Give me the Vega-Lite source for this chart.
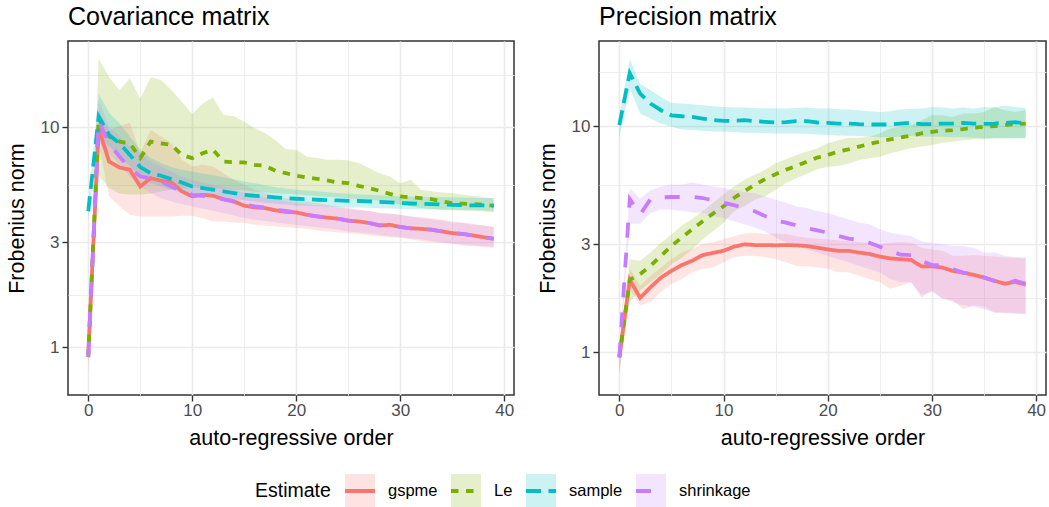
{
"$schema": "https://vega.github.io/schema/vega-lite/v6.json",
"background": "white",
"padding": {"left": 5, "top": 3, "right": 4, "bottom": 0},
"spacing": 21,
"datasets": {"d": [
{"p":"c","e":"gspme","x":0,"m":0.93,"lo":0.74,"hi":1.05},
{"p":"c","e":"gspme","x":1,"m":9.90,"lo":8.46,"hi":11.97},
{"p":"c","e":"gspme","x":2,"m":6.99,"lo":4.85,"hi":9.72},
{"p":"c","e":"gspme","x":3,"m":6.56,"lo":4.37,"hi":10.14},
{"p":"c","e":"gspme","x":4,"m":6.41,"lo":4.00,"hi":10.5},
{"p":"c","e":"gspme","x":5,"m":5.38,"lo":3.93,"hi":7.62},
{"p":"c","e":"gspme","x":6,"m":5.87,"lo":3.93,"hi":9.72},
{"p":"c","e":"gspme","x":7,"m":5.71,"lo":3.93,"hi":9.07},
{"p":"c","e":"gspme","x":8,"m":5.61,"lo":3.93,"hi":8.46},
{"p":"c","e":"gspme","x":9,"m":5.11,"lo":3.96,"hi":7.11},
{"p":"c","e":"gspme","x":10,"m":4.85,"lo":3.96,"hi":6.63},
{"p":"c","e":"gspme","x":11,"m":4.93,"lo":3.86,"hi":6.75},
{"p":"c","e":"gspme","x":12,"m":4.88,"lo":3.73,"hi":6.63},
{"p":"c","e":"gspme","x":13,"m":4.71,"lo":3.73,"hi":6.18},
{"p":"c","e":"gspme","x":14,"m":4.60,"lo":3.69,"hi":5.77},
{"p":"c","e":"gspme","x":15,"m":4.40,"lo":3.67,"hi":5.47},
{"p":"c","e":"gspme","x":16,"m":4.32,"lo":3.60,"hi":5.20},
{"p":"c","e":"gspme","x":17,"m":4.29,"lo":3.57,"hi":5.02},
{"p":"c","e":"gspme","x":18,"m":4.19,"lo":3.55,"hi":4.88},
{"p":"c","e":"gspme","x":19,"m":4.12,"lo":3.51,"hi":4.76},
{"p":"c","e":"gspme","x":20,"m":4.10,"lo":3.48,"hi":4.68},
{"p":"c","e":"gspme","x":21,"m":4.00,"lo":3.45,"hi":4.60},
{"p":"c","e":"gspme","x":22,"m":3.93,"lo":3.40,"hi":4.52},
{"p":"c","e":"gspme","x":23,"m":3.88,"lo":3.36,"hi":4.44},
{"p":"c","e":"gspme","x":24,"m":3.84,"lo":3.33,"hi":4.37},
{"p":"c","e":"gspme","x":25,"m":3.76,"lo":3.30,"hi":4.29},
{"p":"c","e":"gspme","x":26,"m":3.73,"lo":3.27,"hi":4.22},
{"p":"c","e":"gspme","x":27,"m":3.67,"lo":3.23,"hi":4.16},
{"p":"c","e":"gspme","x":28,"m":3.57,"lo":3.19,"hi":4.07},
{"p":"c","e":"gspme","x":29,"m":3.60,"lo":3.16,"hi":4.04},
{"p":"c","e":"gspme","x":30,"m":3.52,"lo":3.14,"hi":4.00},
{"p":"c","e":"gspme","x":31,"m":3.47,"lo":3.09,"hi":3.93},
{"p":"c","e":"gspme","x":32,"m":3.45,"lo":3.04,"hi":3.91},
{"p":"c","e":"gspme","x":33,"m":3.42,"lo":3.01,"hi":3.86},
{"p":"c","e":"gspme","x":34,"m":3.36,"lo":2.98,"hi":3.80},
{"p":"c","e":"gspme","x":35,"m":3.30,"lo":2.95,"hi":3.73},
{"p":"c","e":"gspme","x":36,"m":3.27,"lo":2.90,"hi":3.69},
{"p":"c","e":"gspme","x":37,"m":3.22,"lo":2.88,"hi":3.64},
{"p":"c","e":"gspme","x":38,"m":3.16,"lo":2.85,"hi":3.57},
{"p":"c","e":"gspme","x":39,"m":3.11,"lo":2.83,"hi":3.52},
{"p":"c","e":"Le","x":0,"m":0.90,"lo":0.86,"hi":0.94},
{"p":"c","e":"Le","x":1,"m":10.98,"lo":6.0,"hi":20.6},
{"p":"c","e":"Le","x":2,"m":9.07,"lo":5.3,"hi":16.9},
{"p":"c","e":"Le","x":3,"m":8.61,"lo":5.0,"hi":14.75},
{"p":"c","e":"Le","x":4,"m":8.46,"lo":4.95,"hi":16.7},
{"p":"c","e":"Le","x":5,"m":7.24,"lo":4.95,"hi":13.5},
{"p":"c","e":"Le","x":6,"m":8.61,"lo":5.0,"hi":16.9},
{"p":"c","e":"Le","x":7,"m":8.46,"lo":5.1,"hi":16.4},
{"p":"c","e":"Le","x":8,"m":8.31,"lo":5.2,"hi":14.75},
{"p":"c","e":"Le","x":9,"m":7.49,"lo":5.25,"hi":13.07},
{"p":"c","e":"Le","x":10,"m":7.24,"lo":5.3,"hi":11.49},
{"p":"c","e":"Le","x":11,"m":7.62,"lo":5.3,"hi":12.84},
{"p":"c","e":"Le","x":12,"m":7.90,"lo":5.3,"hi":13.67},
{"p":"c","e":"Le","x":13,"m":6.99,"lo":5.25,"hi":11.37},
{"p":"c","e":"Le","x":14,"m":6.94,"lo":5.2,"hi":11.26},
{"p":"c","e":"Le","x":15,"m":6.92,"lo":5.15,"hi":10.6},
{"p":"c","e":"Le","x":16,"m":6.75,"lo":5.1,"hi":9.9},
{"p":"c","e":"Le","x":17,"m":6.68,"lo":5.05,"hi":9.39},
{"p":"c","e":"Le","x":18,"m":6.34,"lo":5.0,"hi":8.76},
{"p":"c","e":"Le","x":19,"m":6.18,"lo":4.98,"hi":7.95},
{"p":"c","e":"Le","x":20,"m":6.02,"lo":4.95,"hi":7.90},
{"p":"c","e":"Le","x":21,"m":5.91,"lo":4.9,"hi":7.36},
{"p":"c","e":"Le","x":22,"m":5.83,"lo":4.87,"hi":7.24},
{"p":"c","e":"Le","x":23,"m":5.73,"lo":4.83,"hi":7.11},
{"p":"c","e":"Le","x":24,"m":5.61,"lo":4.8,"hi":7.11},
{"p":"c","e":"Le","x":25,"m":5.57,"lo":4.76,"hi":7.06},
{"p":"c","e":"Le","x":26,"m":5.41,"lo":4.72,"hi":6.87},
{"p":"c","e":"Le","x":27,"m":5.29,"lo":4.68,"hi":6.52},
{"p":"c","e":"Le","x":28,"m":5.14,"lo":4.63,"hi":6.18},
{"p":"c","e":"Le","x":29,"m":4.98,"lo":4.55,"hi":5.97},
{"p":"c","e":"Le","x":30,"m":4.85,"lo":4.44,"hi":5.57},
{"p":"c","e":"Le","x":31,"m":4.80,"lo":4.37,"hi":5.77},
{"p":"c","e":"Le","x":32,"m":4.76,"lo":4.29,"hi":5.20},
{"p":"c","e":"Le","x":33,"m":4.71,"lo":4.25,"hi":5.11},
{"p":"c","e":"Le","x":34,"m":4.60,"lo":4.22,"hi":5.05},
{"p":"c","e":"Le","x":35,"m":4.52,"lo":4.19,"hi":5.02},
{"p":"c","e":"Le","x":36,"m":4.49,"lo":4.17,"hi":4.93},
{"p":"c","e":"Le","x":37,"m":4.47,"lo":4.16,"hi":4.88},
{"p":"c","e":"Le","x":38,"m":4.44,"lo":4.15,"hi":4.81},
{"p":"c","e":"Le","x":39,"m":4.40,"lo":4.10,"hi":4.76},
{"p":"c","e":"sample","x":0,"m":4.15,"lo":3.80,"hi":4.52},
{"p":"c","e":"sample","x":1,"m":11.18,"lo":9.07,"hi":14.2},
{"p":"c","e":"sample","x":2,"m":9.23,"lo":8.17,"hi":11.65},
{"p":"c","e":"sample","x":3,"m":8.46,"lo":7.49,"hi":10.42},
{"p":"c","e":"sample","x":4,"m":7.49,"lo":6.63,"hi":9.07},
{"p":"c","e":"sample","x":5,"m":6.59,"lo":5.97,"hi":7.90},
{"p":"c","e":"sample","x":6,"m":6.18,"lo":5.57,"hi":7.24},
{"p":"c","e":"sample","x":7,"m":6.02,"lo":5.38,"hi":6.87},
{"p":"c","e":"sample","x":8,"m":5.81,"lo":5.20,"hi":6.59},
{"p":"c","e":"sample","x":9,"m":5.61,"lo":5.05,"hi":6.41},
{"p":"c","e":"sample","x":10,"m":5.38,"lo":4.93,"hi":6.29},
{"p":"c","e":"sample","x":11,"m":5.29,"lo":4.87,"hi":6.17},
{"p":"c","e":"sample","x":12,"m":5.20,"lo":4.81,"hi":6.06},
{"p":"c","e":"sample","x":13,"m":5.11,"lo":4.75,"hi":5.93},
{"p":"c","e":"sample","x":14,"m":5.02,"lo":4.70,"hi":5.80},
{"p":"c","e":"sample","x":15,"m":4.93,"lo":4.65,"hi":5.67},
{"p":"c","e":"sample","x":16,"m":4.88,"lo":4.60,"hi":5.56},
{"p":"c","e":"sample","x":17,"m":4.85,"lo":4.54,"hi":5.45},
{"p":"c","e":"sample","x":18,"m":4.80,"lo":4.49,"hi":5.34},
{"p":"c","e":"sample","x":19,"m":4.76,"lo":4.45,"hi":5.27},
{"p":"c","e":"sample","x":20,"m":4.73,"lo":4.41,"hi":5.20},
{"p":"c","e":"sample","x":21,"m":4.71,"lo":4.39,"hi":5.15},
{"p":"c","e":"sample","x":22,"m":4.68,"lo":4.37,"hi":5.11},
{"p":"c","e":"sample","x":23,"m":4.66,"lo":4.35,"hi":5.06},
{"p":"c","e":"sample","x":24,"m":4.65,"lo":4.33,"hi":5.02},
{"p":"c","e":"sample","x":25,"m":4.63,"lo":4.32,"hi":4.98},
{"p":"c","e":"sample","x":26,"m":4.62,"lo":4.31,"hi":4.95},
{"p":"c","e":"sample","x":27,"m":4.60,"lo":4.30,"hi":4.93},
{"p":"c","e":"sample","x":28,"m":4.58,"lo":4.28,"hi":4.90},
{"p":"c","e":"sample","x":29,"m":4.55,"lo":4.27,"hi":4.87},
{"p":"c","e":"sample","x":30,"m":4.52,"lo":4.26,"hi":4.85},
{"p":"c","e":"sample","x":31,"m":4.50,"lo":4.25,"hi":4.84},
{"p":"c","e":"sample","x":32,"m":4.49,"lo":4.24,"hi":4.83},
{"p":"c","e":"sample","x":33,"m":4.47,"lo":4.24,"hi":4.82},
{"p":"c","e":"sample","x":34,"m":4.46,"lo":4.23,"hi":4.81},
{"p":"c","e":"sample","x":35,"m":4.44,"lo":4.22,"hi":4.80},
{"p":"c","e":"sample","x":36,"m":4.43,"lo":4.21,"hi":4.79},
{"p":"c","e":"sample","x":37,"m":4.41,"lo":4.20,"hi":4.78},
{"p":"c","e":"sample","x":38,"m":4.41,"lo":4.18,"hi":4.77},
{"p":"c","e":"sample","x":39,"m":4.40,"lo":4.17,"hi":4.76},
{"p":"c","e":"shrinkage","x":0,"m":0.90,"lo":0.86,"hi":0.94},
{"p":"c","e":"shrinkage","x":1,"m":10.68,"lo":8.46,"hi":13.3},
{"p":"c","e":"shrinkage","x":2,"m":8.46,"lo":7.62,"hi":10.07},
{"p":"c","e":"shrinkage","x":3,"m":7.36,"lo":6.75,"hi":9.07},
{"p":"c","e":"shrinkage","x":4,"m":6.52,"lo":5.97,"hi":8.17},
{"p":"c","e":"shrinkage","x":5,"m":5.97,"lo":5.38,"hi":7.62},
{"p":"c","e":"shrinkage","x":6,"m":5.87,"lo":5.02,"hi":6.99},
{"p":"c","e":"shrinkage","x":7,"m":5.67,"lo":4.76,"hi":6.63},
{"p":"c","e":"shrinkage","x":8,"m":5.38,"lo":4.60,"hi":6.29},
{"p":"c","e":"shrinkage","x":9,"m":5.11,"lo":4.47,"hi":5.97},
{"p":"c","e":"shrinkage","x":10,"m":4.93,"lo":4.37,"hi":5.77},
{"p":"c","e":"shrinkage","x":11,"m":4.88,"lo":4.26,"hi":5.61},
{"p":"c","e":"shrinkage","x":12,"m":4.80,"lo":4.17,"hi":5.47},
{"p":"c","e":"shrinkage","x":13,"m":4.70,"lo":4.07,"hi":5.34},
{"p":"c","e":"shrinkage","x":14,"m":4.59,"lo":3.97,"hi":5.20},
{"p":"c","e":"shrinkage","x":15,"m":4.44,"lo":3.86,"hi":5.02},
{"p":"c","e":"shrinkage","x":16,"m":4.37,"lo":3.80,"hi":4.93},
{"p":"c","e":"shrinkage","x":17,"m":4.31,"lo":3.76,"hi":4.81},
{"p":"c","e":"shrinkage","x":18,"m":4.22,"lo":3.69,"hi":4.71},
{"p":"c","e":"shrinkage","x":19,"m":4.16,"lo":3.64,"hi":4.60},
{"p":"c","e":"shrinkage","x":20,"m":4.10,"lo":3.60,"hi":4.52},
{"p":"c","e":"shrinkage","x":21,"m":4.00,"lo":3.55,"hi":4.47},
{"p":"c","e":"shrinkage","x":22,"m":3.93,"lo":3.51,"hi":4.41},
{"p":"c","e":"shrinkage","x":23,"m":3.88,"lo":3.47,"hi":4.37},
{"p":"c","e":"shrinkage","x":24,"m":3.84,"lo":3.42,"hi":4.31},
{"p":"c","e":"shrinkage","x":25,"m":3.76,"lo":3.36,"hi":4.25},
{"p":"c","e":"shrinkage","x":26,"m":3.73,"lo":3.33,"hi":4.19},
{"p":"c","e":"shrinkage","x":27,"m":3.67,"lo":3.29,"hi":4.16},
{"p":"c","e":"shrinkage","x":28,"m":3.59,"lo":3.24,"hi":4.07},
{"p":"c","e":"shrinkage","x":29,"m":3.58,"lo":3.19,"hi":4.04},
{"p":"c","e":"shrinkage","x":30,"m":3.52,"lo":3.17,"hi":4.00},
{"p":"c","e":"shrinkage","x":31,"m":3.47,"lo":3.12,"hi":3.93},
{"p":"c","e":"shrinkage","x":32,"m":3.45,"lo":3.09,"hi":3.86},
{"p":"c","e":"shrinkage","x":33,"m":3.42,"lo":3.04,"hi":3.82},
{"p":"c","e":"shrinkage","x":34,"m":3.36,"lo":3.00,"hi":3.77},
{"p":"c","e":"shrinkage","x":35,"m":3.30,"lo":2.96,"hi":3.69},
{"p":"c","e":"shrinkage","x":36,"m":3.27,"lo":2.92,"hi":3.67},
{"p":"c","e":"shrinkage","x":37,"m":3.22,"lo":2.90,"hi":3.60},
{"p":"c","e":"shrinkage","x":38,"m":3.17,"lo":2.88,"hi":3.57},
{"p":"c","e":"shrinkage","x":39,"m":3.11,"lo":2.85,"hi":3.52},
{"p":"p","e":"gspme","x":0,"m":0.95,"lo":0.79,"hi":1.11},
{"p":"p","e":"gspme","x":1,"m":2.09,"lo":1.91,"hi":2.34},
{"p":"p","e":"gspme","x":2,"m":1.74,"lo":1.61,"hi":1.97},
{"p":"p","e":"gspme","x":3,"m":1.94,"lo":1.67,"hi":2.18},
{"p":"p","e":"gspme","x":4,"m":2.14,"lo":1.85,"hi":2.37},
{"p":"p","e":"gspme","x":5,"m":2.29,"lo":2.01,"hi":2.58},
{"p":"p","e":"gspme","x":6,"m":2.43,"lo":2.11,"hi":2.76},
{"p":"p","e":"gspme","x":7,"m":2.54,"lo":2.26,"hi":2.87},
{"p":"p","e":"gspme","x":8,"m":2.69,"lo":2.34,"hi":3.0},
{"p":"p","e":"gspme","x":9,"m":2.75,"lo":2.37,"hi":3.07},
{"p":"p","e":"gspme","x":10,"m":2.81,"lo":2.50,"hi":3.16},
{"p":"p","e":"gspme","x":11,"m":2.93,"lo":2.63,"hi":3.26},
{"p":"p","e":"gspme","x":12,"m":3.0,"lo":2.67,"hi":3.35},
{"p":"p","e":"gspme","x":13,"m":2.98,"lo":2.67,"hi":3.38},
{"p":"p","e":"gspme","x":14,"m":2.98,"lo":2.63,"hi":3.33},
{"p":"p","e":"gspme","x":15,"m":2.97,"lo":2.58,"hi":3.35},
{"p":"p","e":"gspme","x":16,"m":2.98,"lo":2.50,"hi":3.33},
{"p":"p","e":"gspme","x":17,"m":2.97,"lo":2.41,"hi":3.26},
{"p":"p","e":"gspme","x":18,"m":2.95,"lo":2.40,"hi":3.21},
{"p":"p","e":"gspme","x":19,"m":2.90,"lo":2.37,"hi":3.18},
{"p":"p","e":"gspme","x":20,"m":2.85,"lo":2.34,"hi":3.16},
{"p":"p","e":"gspme","x":21,"m":2.81,"lo":2.26,"hi":3.13},
{"p":"p","e":"gspme","x":22,"m":2.81,"lo":2.26,"hi":3.10},
{"p":"p","e":"gspme","x":23,"m":2.76,"lo":2.18,"hi":3.07},
{"p":"p","e":"gspme","x":24,"m":2.72,"lo":2.11,"hi":3.05},
{"p":"p","e":"gspme","x":25,"m":2.65,"lo":2.04,"hi":3.0},
{"p":"p","e":"gspme","x":26,"m":2.60,"lo":1.91,"hi":3.05},
{"p":"p","e":"gspme","x":27,"m":2.58,"lo":1.97,"hi":3.07},
{"p":"p","e":"gspme","x":28,"m":2.56,"lo":2.04,"hi":3.05},
{"p":"p","e":"gspme","x":29,"m":2.40,"lo":1.74,"hi":2.90},
{"p":"p","e":"gspme","x":30,"m":2.40,"lo":1.88,"hi":2.85},
{"p":"p","e":"gspme","x":31,"m":2.37,"lo":1.73,"hi":2.81},
{"p":"p","e":"gspme","x":32,"m":2.29,"lo":1.70,"hi":2.67},
{"p":"p","e":"gspme","x":33,"m":2.25,"lo":1.55,"hi":2.67},
{"p":"p","e":"gspme","x":34,"m":2.20,"lo":1.61,"hi":2.69},
{"p":"p","e":"gspme","x":35,"m":2.14,"lo":1.59,"hi":2.67},
{"p":"p","e":"gspme","x":36,"m":2.07,"lo":1.50,"hi":2.65},
{"p":"p","e":"gspme","x":37,"m":2.01,"lo":1.50,"hi":2.63},
{"p":"p","e":"gspme","x":38,"m":2.05,"lo":1.49,"hi":2.62},
{"p":"p","e":"gspme","x":39,"m":1.99,"lo":1.48,"hi":2.60},
{"p":"p","e":"Le","x":0,"m":0.95,"lo":0.82,"hi":1.0},
{"p":"p","e":"Le","x":1,"m":2.09,"lo":1.67,"hi":2.58},
{"p":"p","e":"Le","x":2,"m":2.22,"lo":1.88,"hi":2.54},
{"p":"p","e":"Le","x":3,"m":2.41,"lo":2.04,"hi":2.76},
{"p":"p","e":"Le","x":4,"m":2.67,"lo":2.22,"hi":3.05},
{"p":"p","e":"Le","x":5,"m":2.95,"lo":2.45,"hi":3.32},
{"p":"p","e":"Le","x":6,"m":3.22,"lo":2.62,"hi":3.64},
{"p":"p","e":"Le","x":7,"m":3.50,"lo":2.85,"hi":3.89},
{"p":"p","e":"Le","x":8,"m":3.80,"lo":3.16,"hi":4.20},
{"p":"p","e":"Le","x":9,"m":4.11,"lo":3.44,"hi":4.58},
{"p":"p","e":"Le","x":10,"m":4.42,"lo":3.74,"hi":4.98},
{"p":"p","e":"Le","x":11,"m":4.81,"lo":4.20,"hi":5.41},
{"p":"p","e":"Le","x":12,"m":5.15,"lo":4.42,"hi":5.79},
{"p":"p","e":"Le","x":13,"m":5.51,"lo":4.73,"hi":6.09},
{"p":"p","e":"Le","x":14,"m":5.83,"lo":4.90,"hi":6.41},
{"p":"p","e":"Le","x":15,"m":6.13,"lo":5.23,"hi":6.86},
{"p":"p","e":"Le","x":16,"m":6.41,"lo":5.60,"hi":7.14},
{"p":"p","e":"Le","x":17,"m":6.67,"lo":5.89,"hi":7.45},
{"p":"p","e":"Le","x":18,"m":6.97,"lo":6.15,"hi":7.72},
{"p":"p","e":"Le","x":19,"m":7.26,"lo":6.45,"hi":7.98},
{"p":"p","e":"Le","x":20,"m":7.45,"lo":6.62,"hi":8.40},
{"p":"p","e":"Le","x":21,"m":7.72,"lo":6.67,"hi":8.67},
{"p":"p","e":"Le","x":22,"m":7.90,"lo":6.81,"hi":8.88},
{"p":"p","e":"Le","x":23,"m":8.12,"lo":7.09,"hi":8.88},
{"p":"p","e":"Le","x":24,"m":8.34,"lo":7.21,"hi":8.98},
{"p":"p","e":"Le","x":25,"m":8.54,"lo":7.33,"hi":9.28},
{"p":"p","e":"Le","x":26,"m":8.74,"lo":7.58,"hi":9.77},
{"p":"p","e":"Le","x":27,"m":8.91,"lo":7.79,"hi":9.93},
{"p":"p","e":"Le","x":28,"m":9.07,"lo":7.98,"hi":10.1},
{"p":"p","e":"Le","x":29,"m":9.28,"lo":8.12,"hi":10.63},
{"p":"p","e":"Le","x":30,"m":9.44,"lo":8.26,"hi":11.17},
{"p":"p","e":"Le","x":31,"m":9.54,"lo":8.45,"hi":11.17},
{"p":"p","e":"Le","x":32,"m":9.61,"lo":8.54,"hi":10.99},
{"p":"p","e":"Le","x":33,"m":9.71,"lo":8.67,"hi":11.36},
{"p":"p","e":"Le","x":34,"m":9.84,"lo":8.74,"hi":11.36},
{"p":"p","e":"Le","x":35,"m":9.93,"lo":8.74,"hi":11.56},
{"p":"p","e":"Le","x":36,"m":10.0,"lo":8.83,"hi":12.16},
{"p":"p","e":"Le","x":37,"m":10.1,"lo":8.83,"hi":11.76},
{"p":"p","e":"Le","x":38,"m":10.2,"lo":8.83,"hi":11.56},
{"p":"p","e":"Le","x":39,"m":10.27,"lo":8.83,"hi":11.76},
{"p":"p","e":"sample","x":0,"m":10.1,"lo":8.83,"hi":11.17},
{"p":"p","e":"sample","x":1,"m":17.15,"lo":14.8,"hi":19.8},
{"p":"p","e":"sample","x":2,"m":13.92,"lo":11.36,"hi":15.4},
{"p":"p","e":"sample","x":3,"m":12.58,"lo":10.8,"hi":14.4},
{"p":"p","e":"sample","x":4,"m":11.76,"lo":10.27,"hi":13.46},
{"p":"p","e":"sample","x":5,"m":11.17,"lo":9.93,"hi":12.66},
{"p":"p","e":"sample","x":6,"m":11.06,"lo":9.67,"hi":12.58},
{"p":"p","e":"sample","x":7,"m":10.99,"lo":9.61,"hi":12.49},
{"p":"p","e":"sample","x":8,"m":10.8,"lo":9.54,"hi":12.37},
{"p":"p","e":"sample","x":9,"m":10.63,"lo":9.48,"hi":12.24},
{"p":"p","e":"sample","x":10,"m":10.56,"lo":9.44,"hi":12.16},
{"p":"p","e":"sample","x":11,"m":10.56,"lo":9.41,"hi":12.12},
{"p":"p","e":"sample","x":12,"m":10.63,"lo":9.35,"hi":12.08},
{"p":"p","e":"sample","x":13,"m":10.52,"lo":9.35,"hi":12.04},
{"p":"p","e":"sample","x":14,"m":10.45,"lo":9.32,"hi":12.0},
{"p":"p","e":"sample","x":15,"m":10.38,"lo":9.28,"hi":11.96},
{"p":"p","e":"sample","x":16,"m":10.41,"lo":9.28,"hi":11.96},
{"p":"p","e":"sample","x":17,"m":10.52,"lo":9.28,"hi":12.04},
{"p":"p","e":"sample","x":18,"m":10.52,"lo":9.25,"hi":12.08},
{"p":"p","e":"sample","x":19,"m":10.38,"lo":9.19,"hi":11.96},
{"p":"p","e":"sample","x":20,"m":10.34,"lo":9.13,"hi":11.96},
{"p":"p","e":"sample","x":21,"m":10.27,"lo":9.10,"hi":11.88},
{"p":"p","e":"sample","x":22,"m":10.27,"lo":9.07,"hi":11.84},
{"p":"p","e":"sample","x":23,"m":10.2,"lo":9.04,"hi":11.76},
{"p":"p","e":"sample","x":24,"m":10.17,"lo":8.98,"hi":11.64},
{"p":"p","e":"sample","x":25,"m":10.17,"lo":8.92,"hi":11.56},
{"p":"p","e":"sample","x":26,"m":10.17,"lo":8.92,"hi":11.64},
{"p":"p","e":"sample","x":27,"m":10.27,"lo":8.98,"hi":11.84},
{"p":"p","e":"sample","x":28,"m":10.34,"lo":9.04,"hi":11.92},
{"p":"p","e":"sample","x":29,"m":10.2,"lo":8.98,"hi":11.96},
{"p":"p","e":"sample","x":30,"m":10.2,"lo":8.98,"hi":12.16},
{"p":"p","e":"sample","x":31,"m":10.27,"lo":8.98,"hi":12.08},
{"p":"p","e":"sample","x":32,"m":10.27,"lo":8.92,"hi":11.96},
{"p":"p","e":"sample","x":33,"m":10.34,"lo":8.92,"hi":12.08},
{"p":"p","e":"sample","x":34,"m":10.27,"lo":8.89,"hi":11.96},
{"p":"p","e":"sample","x":35,"m":10.24,"lo":8.83,"hi":12.16},
{"p":"p","e":"sample","x":36,"m":10.27,"lo":8.83,"hi":12.08},
{"p":"p","e":"sample","x":37,"m":10.34,"lo":8.83,"hi":12.33},
{"p":"p","e":"sample","x":38,"m":10.41,"lo":8.86,"hi":12.16},
{"p":"p","e":"sample","x":39,"m":10.27,"lo":8.83,"hi":12.04},
{"p":"p","e":"shrinkage","x":0,"m":0.95,"lo":0.90,"hi":1.0},
{"p":"p","e":"shrinkage","x":1,"m":4.76,"lo":3.70,"hi":5.32},
{"p":"p","e":"shrinkage","x":2,"m":4.07,"lo":3.70,"hi":4.78},
{"p":"p","e":"shrinkage","x":3,"m":4.76,"lo":4.13,"hi":5.20},
{"p":"p","e":"shrinkage","x":4,"m":4.84,"lo":4.28,"hi":5.41},
{"p":"p","e":"shrinkage","x":5,"m":4.86,"lo":4.28,"hi":5.52},
{"p":"p","e":"shrinkage","x":6,"m":4.86,"lo":4.21,"hi":5.52},
{"p":"p","e":"shrinkage","x":7,"m":4.86,"lo":4.16,"hi":5.64},
{"p":"p","e":"shrinkage","x":8,"m":4.81,"lo":4.13,"hi":5.52},
{"p":"p","e":"shrinkage","x":9,"m":4.70,"lo":3.99,"hi":5.41},
{"p":"p","e":"shrinkage","x":10,"m":4.58,"lo":3.92,"hi":5.32},
{"p":"p","e":"shrinkage","x":11,"m":4.47,"lo":3.80,"hi":5.20},
{"p":"p","e":"shrinkage","x":12,"m":4.34,"lo":3.68,"hi":5.12},
{"p":"p","e":"shrinkage","x":13,"m":4.20,"lo":3.56,"hi":5.05},
{"p":"p","e":"shrinkage","x":14,"m":4.0,"lo":3.42,"hi":4.88},
{"p":"p","e":"shrinkage","x":15,"m":3.82,"lo":3.22,"hi":4.72},
{"p":"p","e":"shrinkage","x":16,"m":3.74,"lo":3.05,"hi":4.58},
{"p":"p","e":"shrinkage","x":17,"m":3.64,"lo":2.95,"hi":4.42},
{"p":"p","e":"shrinkage","x":18,"m":3.54,"lo":2.85,"hi":4.35},
{"p":"p","e":"shrinkage","x":19,"m":3.46,"lo":2.76,"hi":4.20},
{"p":"p","e":"shrinkage","x":20,"m":3.38,"lo":2.67,"hi":4.13},
{"p":"p","e":"shrinkage","x":21,"m":3.27,"lo":2.58,"hi":3.99},
{"p":"p","e":"shrinkage","x":22,"m":3.18,"lo":2.50,"hi":3.86},
{"p":"p","e":"shrinkage","x":23,"m":3.14,"lo":2.41,"hi":3.74},
{"p":"p","e":"shrinkage","x":24,"m":3.05,"lo":2.33,"hi":3.68},
{"p":"p","e":"shrinkage","x":25,"m":2.93,"lo":2.25,"hi":3.50},
{"p":"p","e":"shrinkage","x":26,"m":2.81,"lo":2.11,"hi":3.38},
{"p":"p","e":"shrinkage","x":27,"m":2.70,"lo":2.04,"hi":3.32},
{"p":"p","e":"shrinkage","x":28,"m":2.69,"lo":2.04,"hi":3.26},
{"p":"p","e":"shrinkage","x":29,"m":2.54,"lo":1.79,"hi":3.10},
{"p":"p","e":"shrinkage","x":30,"m":2.43,"lo":1.85,"hi":3.05},
{"p":"p","e":"shrinkage","x":31,"m":2.43,"lo":1.73,"hi":3.0},
{"p":"p","e":"shrinkage","x":32,"m":2.33,"lo":1.67,"hi":2.95},
{"p":"p","e":"shrinkage","x":33,"m":2.25,"lo":1.61,"hi":2.95},
{"p":"p","e":"shrinkage","x":34,"m":2.20,"lo":1.59,"hi":2.90},
{"p":"p","e":"shrinkage","x":35,"m":2.14,"lo":1.55,"hi":2.76},
{"p":"p","e":"shrinkage","x":36,"m":2.07,"lo":1.50,"hi":2.76},
{"p":"p","e":"shrinkage","x":37,"m":2.01,"lo":1.49,"hi":2.67},
{"p":"p","e":"shrinkage","x":38,"m":2.07,"lo":1.48,"hi":2.63},
{"p":"p","e":"shrinkage","x":39,"m":2.01,"lo":1.48,"hi":2.63}
]},
"hconcat": [
{
 "width": 446, "height": 354,
 "title": {"text": "Covariance matrix"},
 "data": {"name": "d"},
 "transform": [{"filter": "datum.p == 'c'"}],
 "layer": [
  {"mark": {"type": "area", "opacity": 0.2, "strokeWidth": 0},
   "encoding": {
    "x": {"field": "x", "type": "quantitative", "title": "auto-regressive order", "scale": {"domain": [-1.95, 40.95], "nice": false, "zero": false},
      "axis": {"values": [0,5,10,15,20,25,30,35,40], "labelExpr": "datum.value % 10 == 0 ? datum.label : ''", "tickOpacity": {"condition": {"test": "datum.value % 10 == 0", "value": 1}, "value": 0}, "gridWidth": {"condition": {"test": "datum.value % 10 == 0", "value": 1.7}, "value": 0.85}}},
    "y": {"field": "lo", "type": "quantitative", "title": "Frobenius norm", "scale": {"type": "log", "domain": [0.605, 24.7], "nice": false},
      "axis": {"values": [1, 1.7320508, 3, 5.4772256, 10, 17.320508], "labelExpr": "datum.value == 1 ? '1' : datum.value == 3 ? '3' : datum.value == 10 ? '10' : ''", "tickOpacity": {"condition": {"test": "datum.value == 1 || datum.value == 3 || datum.value == 10", "value": 1}, "value": 0}, "gridWidth": {"condition": {"test": "datum.value == 1 || datum.value == 3 || datum.value == 10", "value": 1.7}, "value": 0.85}}},
    "y2": {"field": "hi"},
    "fill": {"field": "e", "type": "nominal", "sort": ["gspme", "Le", "sample", "shrinkage"], "scale": {"range": ["#F8766D", "#7CAE00", "#00BFC4", "#C77CFF"]},
      "legend": {"orient": "none", "legendX": 187, "legendY": 433, "direction": "horizontal", "title": "Estimate", "titleOrient": "left", "symbolType": "M-1,-1.13H1V1.13H-1Z", "symbolSize": 900, "symbolOpacity": 0.2, "symbolStrokeColor": "transparent", "symbolStrokeWidth": 3.8, "labelOpacity": 0, "titleOpacity": 0}}
   }},
  {"mark": {"type": "line", "strokeWidth": 3.8},
   "encoding": {
    "x": {"field": "x", "type": "quantitative", "title": "auto-regressive order"},
    "y": {"field": "m", "type": "quantitative", "title": "Frobenius norm"},
    "stroke": {"field": "e", "type": "nominal", "scale": {"domain": ["gspme", "Le", "sample", "shrinkage"], "range": ["#F8766D", "#7CAE00", "#00BFC4", "#C77CFF"]},
      "legend": {"orient": "none", "legendX": 187, "legendY": 433, "direction": "horizontal", "title": "Estimate", "titleOrient": "left", "symbolType": "M-1,0H1", "symbolSize": 900, "symbolStrokeWidth": 3.8}},
    "strokeDash": {"field": "e", "type": "nominal", "scale": {"domain": ["gspme", "Le", "sample", "shrinkage"], "range": [[1,0],[7.5,7.5],[15,7.5],[15,15]]},
      "legend": {"orient": "none", "legendX": 187, "legendY": 433, "direction": "horizontal", "title": "Estimate", "titleOrient": "left", "symbolType": "M-1,0H1", "symbolSize": 900, "symbolStrokeWidth": 3.8}}
   }}
 ]
},
{
 "width": 447, "height": 354,
 "title": {"text": "Precision matrix"},
 "data": {"name": "d"},
 "transform": [{"filter": "datum.p == 'p'"}],
 "layer": [
  {"mark": {"type": "area", "opacity": 0.2, "strokeWidth": 0},
   "encoding": {
    "x": {"field": "x", "type": "quantitative", "title": "auto-regressive order", "scale": {"domain": [-1.95, 40.95], "nice": false, "zero": false},
      "axis": {"values": [0,5,10,15,20,25,30,35,40], "labelExpr": "datum.value % 10 == 0 ? datum.label : ''", "tickOpacity": {"condition": {"test": "datum.value % 10 == 0", "value": 1}, "value": 0}, "gridWidth": {"condition": {"test": "datum.value % 10 == 0", "value": 1.7}, "value": 0.85}}},
    "y": {"field": "lo", "type": "quantitative", "title": "Frobenius norm", "scale": {"type": "log", "domain": [0.647, 23.8], "nice": false},
      "axis": {"values": [1, 1.7320508, 3, 5.4772256, 10, 17.320508], "labelExpr": "datum.value == 1 ? '1' : datum.value == 3 ? '3' : datum.value == 10 ? '10' : ''", "tickOpacity": {"condition": {"test": "datum.value == 1 || datum.value == 3 || datum.value == 10", "value": 1}, "value": 0}, "gridWidth": {"condition": {"test": "datum.value == 1 || datum.value == 3 || datum.value == 10", "value": 1.7}, "value": 0.85}}},
    "y2": {"field": "hi"},
    "fill": {"field": "e", "type": "nominal", "sort": ["gspme", "Le", "sample", "shrinkage"], "scale": {"range": ["#F8766D", "#7CAE00", "#00BFC4", "#C77CFF"]},
      "legend": {"orient": "none", "legendX": 187, "legendY": 433, "direction": "horizontal", "title": "Estimate", "titleOrient": "left", "symbolType": "M-1,-1.13H1V1.13H-1Z", "symbolSize": 900, "symbolOpacity": 0.2, "symbolStrokeColor": "transparent", "symbolStrokeWidth": 3.8, "labelOpacity": 0, "titleOpacity": 0}}
   }},
  {"mark": {"type": "line", "strokeWidth": 3.8},
   "encoding": {
    "x": {"field": "x", "type": "quantitative", "title": "auto-regressive order"},
    "y": {"field": "m", "type": "quantitative", "title": "Frobenius norm"},
    "stroke": {"field": "e", "type": "nominal", "scale": {"domain": ["gspme", "Le", "sample", "shrinkage"], "range": ["#F8766D", "#7CAE00", "#00BFC4", "#C77CFF"]},
      "legend": {"orient": "none", "legendX": 187, "legendY": 433, "direction": "horizontal", "title": "Estimate", "titleOrient": "left", "symbolType": "M-1,0H1", "symbolSize": 900, "symbolStrokeWidth": 3.8}},
    "strokeDash": {"field": "e", "type": "nominal", "scale": {"domain": ["gspme", "Le", "sample", "shrinkage"], "range": [[1,0],[7.5,7.5],[15,7.5],[15,15]]},
      "legend": {"orient": "none", "legendX": 187, "legendY": 433, "direction": "horizontal", "title": "Estimate", "titleOrient": "left", "symbolType": "M-1,0H1", "symbolSize": 900, "symbolStrokeWidth": 3.8}}
   }}
 ]
}
],
"config": {
 "font": "Liberation Sans",
 "view": {"stroke": "#333333", "strokeWidth": 1.5},
 "axis": {"domain": false, "grid": true, "gridColor": "#EBEBEB", "tickColor": "#333333", "tickWidth": 1.4, "tickSize": 6, "labelColor": "#4D4D4D", "labelFontSize": 17, "titleFontSize": 21.5, "titleFontWeight": "normal", "titleColor": "black", "labelFont": "Liberation Sans", "titleFont": "Liberation Sans"},
 "axisY": {"labelPadding": 3, "titlePadding": 12},
 "axisX": {"labelPadding": 1, "titlePadding": 9},
 "title": {"fontSize": 25, "fontWeight": "normal", "anchor": "start", "frame": "group", "color": "black", "baseline": "alphabetic", "offset": 11.5, "font": "Liberation Sans"},
 "legend": {"labelFontSize": 16.5, "titleFontSize": 19.5, "titleFontWeight": "normal", "labelColor": "black", "titleColor": "black", "padding": 0, "columnPadding": 11, "labelOffset": 11, "titlePadding": 12, "clipHeight": 34, "titleAnchor": "middle", "titleBaseline": "middle", "labelFont": "Liberation Sans", "titleFont": "Liberation Sans"}
}
}
